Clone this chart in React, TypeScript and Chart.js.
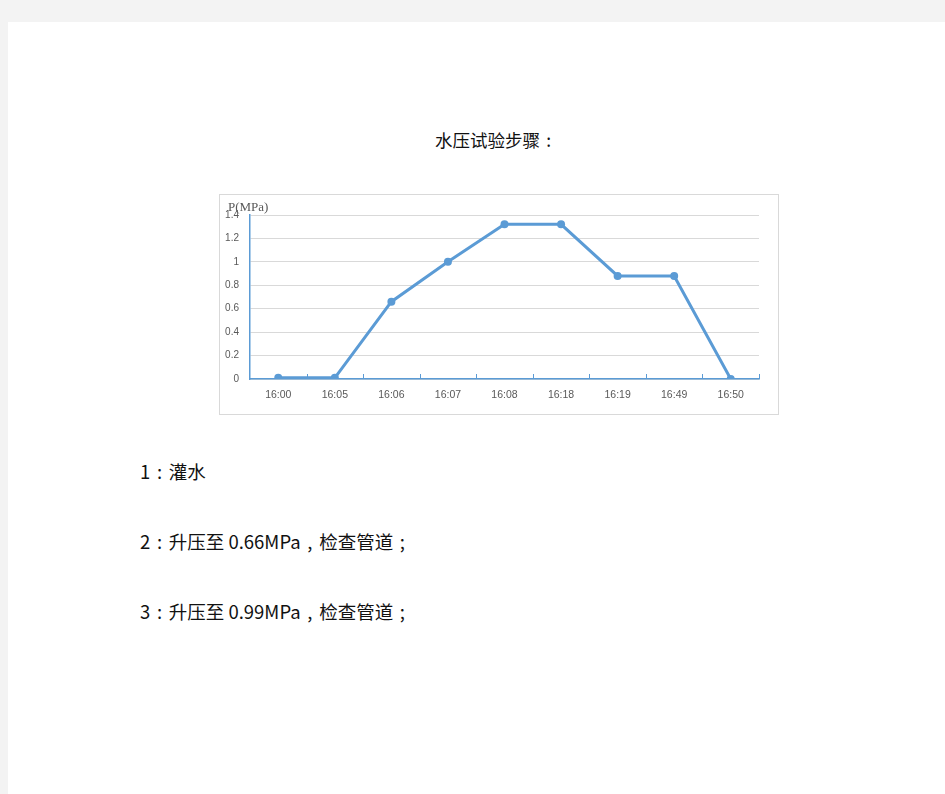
import React, { useEffect, useRef } from "react";
import { Chart, registerables } from "chart.js";

Chart.register(...registerables);

const categories = ["16:00", "16:05", "16:06", "16:07", "16:08", "16:18", "16:19", "16:49", "16:50"];
const pressure = [0.01, 0.01, 0.66, 1.0, 1.32, 1.32, 0.88, 0.88, 0];
const yMin = 0;
const yMax = 1.4;
const yStep = 0.2;
const axisTitle = "P(MPa)";
const pageTitle = "水压试验步骤：";
const steps = ["1：灌水", "2：升压至 0.66MPa，检查管道；", "3：升压至 0.99MPa，检查管道；"];

const BLUE = "#5b9bd5";

const innerTicks = {
  id: "innerTicks",
  afterDatasetsDraw(chart: any) {
    const x = chart.scales.x;
    const ctx = chart.ctx;
    const n = categories.length;
    const step = (x.right - x.left) / n;
    const bottom = chart.chartArea.bottom;
    ctx.save();
    ctx.strokeStyle = BLUE;
    ctx.lineWidth = 1;
    for (let i = 1; i <= n; i++) {
      const px = Math.round(x.left + i * step) + 0.5;
      ctx.beginPath();
      ctx.moveTo(px, bottom - 5);
      ctx.lineTo(px, bottom);
      ctx.stroke();
    }
    ctx.restore();
  },
};

function PressureChart() {
  const ref = useRef<HTMLCanvasElement | null>(null);
  useEffect(() => {
    if (!ref.current) return;
    const chart = new Chart(ref.current, {
      type: "line",
      data: {
        labels: categories,
        datasets: [
          {
            data: pressure,
            borderColor: BLUE,
            backgroundColor: BLUE,
            borderWidth: 3,
            pointRadius: 4,
            pointBackgroundColor: BLUE,
            pointBorderWidth: 0,
            tension: 0,
          },
        ],
      },
      options: {
        responsive: false,
        animation: false,
        layout: { padding: { top: 20, right: 19, left: 0, bottom: 0 } },
        plugins: { legend: { display: false }, tooltip: { enabled: false } },
        scales: {
          x: {
            offset: true,
            grid: { display: false, drawTicks: false, tickLength: 0 },
            border: { display: true, color: BLUE, width: 1.5 },
            ticks: {
              color: "#595959",
              font: { family: "'Liberation Sans', Arial, sans-serif", size: 10.5 },
              padding: 10,
              maxRotation: 0,
              autoSkip: false,
            },
            afterFit(scale: any) {
              scale.height = 35;
            },
          },
          y: {
            min: yMin,
            max: yMax,
            grid: { color: "#d9d9d9", lineWidth: 1, drawTicks: false },
            border: { display: true, color: BLUE, width: 1.5 },
            ticks: {
              stepSize: yStep,
              color: "#595959",
              font: { family: "'Liberation Sans', Arial, sans-serif", size: 10 },
              padding: 11,
              callback: (v: any) => String(Number(Number(v).toFixed(1))),
            },
            afterFit(scale: any) {
              scale.width = 30;
            },
          },
        },
      },
      plugins: [innerTicks],
    });
    return () => chart.destroy();
  }, []);
  return <canvas ref={ref} width={558} height={219} style={{ display: "block", width: 558, height: 219 }} />;
}

const halfWidth: Record<string, string> = { "：": ":", "，": ",", "；": ";" };

function withCenteredPunct(s: string) {
  const parts = s.split(/([：，；])/);
  return parts.map((p, i) =>
    halfWidth[p] ? (
      <span key={i} style={{ display: "inline-block", width: "1em", textAlign: "center" }}>
        {halfWidth[p]}
      </span>
    ) : (
      <React.Fragment key={i}>{p}</React.Fragment>
    )
  );
}

export default function App() {
  const cjk = "'Noto Sans CJK SC', 'Noto Sans', sans-serif";
  return (
    <div style={{ position: "fixed", left: 0, top: 0, width: 945, height: 794, background: "#f3f3f3", overflow: "hidden" }}>
      <div style={{ position: "absolute", left: 8, top: 22, right: 0, bottom: 0, background: "#ffffff" }} />
      <div
        style={{
          position: "absolute",
          left: 435,
          top: 131,
          fontFamily: cjk,
          fontSize: 17.5,
          lineHeight: "17.5px",
          color: "#111",
          whiteSpace: "nowrap",
        }}
      >
        {withCenteredPunct(pageTitle)}
      </div>
      <div
        style={{
          position: "absolute",
          left: 219,
          top: 194,
          width: 558,
          height: 219,
          border: "1px solid #d9d9d9",
          background: "#fff",
        }}
      >
        <PressureChart />
        <div
          style={{
            position: "absolute",
            left: 8,
            top: 5,
            fontFamily: "'Liberation Serif', 'Times New Roman', serif",
            fontSize: 13,
            lineHeight: "13px",
            color: "#595959",
            whiteSpace: "nowrap",
          }}
        >
          {axisTitle}
        </div>
      </div>
      {steps.map((s, i) => (
        <div
          key={i}
          style={{
            position: "absolute",
            left: 140,
            top: 462 + i * 70,
            fontFamily: cjk,
            fontSize: 18.5,
            lineHeight: "19px",
            color: "#111",
            whiteSpace: "nowrap",
          }}
        >
          {withCenteredPunct(s)}
        </div>
      ))}
    </div>
  );
}
